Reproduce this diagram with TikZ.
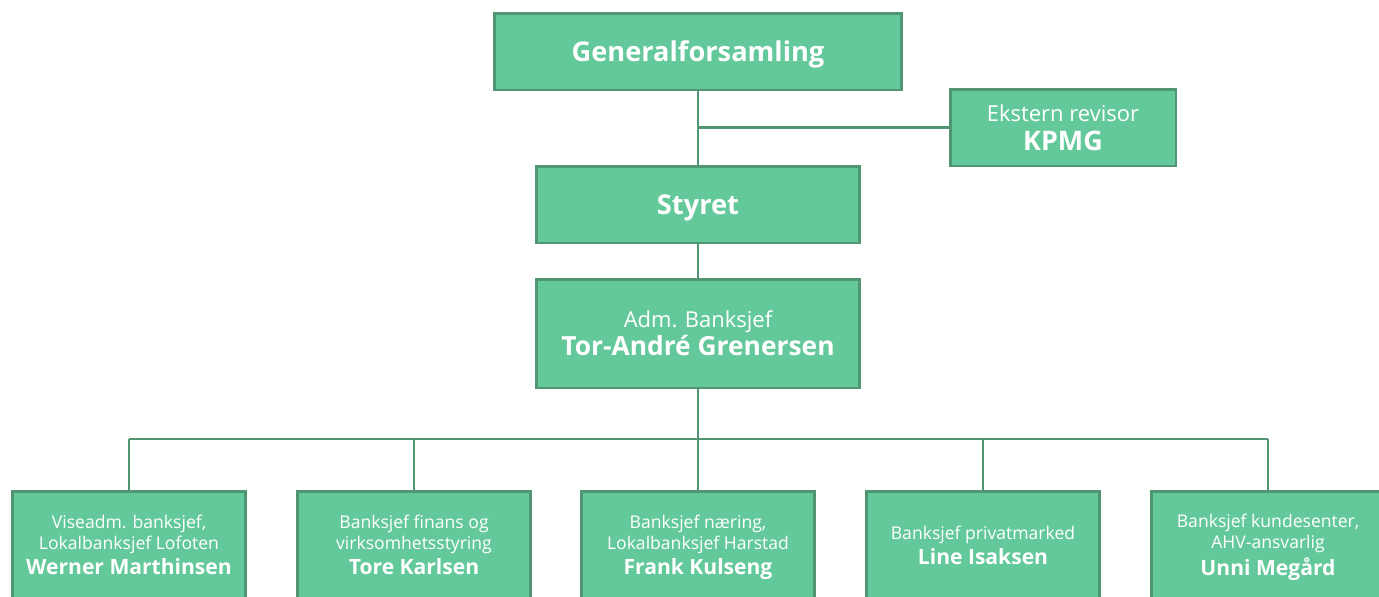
\documentclass[tikz,border=0pt]{standalone}
\usepackage{fontspec}
\setmainfont{Open Sans}
\definecolor{boxfill}{RGB}{100,201,154}
\definecolor{boxline}{RGB}{80,150,115}
\tikzset{
    box/.style={draw=boxline, fill=boxfill, line width=1.7pt, text=white, align=center, inner sep=0pt},
    topbox/.style={box, minimum height=1.54cm},
    unitbox/.style={box, minimum width=4.68cm, minimum height=2.16cm, font=\fontsize{10}{12}\selectfont},
    conn/.style={draw=boxline, line width=1.2pt},
}
\begin{document}
\begin{tikzpicture}[x=0.02cm, y=-0.02cm]
    \useasboundingbox (0,0) rectangle (1379,596);
    \clip (0,0) rectangle (1379,596);
    \node (gf) [topbox, minimum width=8.16cm, text depth=0pt, font=\fontsize{15.5}{18}\selectfont\bfseries] at (698,51.5) {Generalforsamling};
    \node (revisor) [topbox, minimum width=4.52cm, font=\fontsize{12.5}{16}\selectfont] at (1063,127.5)
            {Ekstern revisor\\[0.5pt]{\fontsize{15.3}{16}\selectfont\bfseries KPMG}};
    \node (styret) [topbox, minimum width=6.48cm, text depth=0pt, font=\fontsize{15.5}{18}\selectfont\bfseries] at (698,204.5) {Styret};
    \node (adm) [box, minimum width=6.48cm, minimum height=2.18cm, font=\fontsize{12.5}{15}\selectfont] at (698,333.5)
            {Adm. Banksjef\\[1pt]{\fontsize{15}{15}\selectfont\bfseries Tor-André Grenersen}};
    \foreach \i/\x/\role/\name in {
            1/129/{Viseadm. banksjef,\\Lokalbanksjef Lofoten}/Werner Marthinsen,
            2/414/{Banksjef finans og\\virksomhetsstyring}/Tore Karlsen,
            3/698/{Banksjef næring,\\Lokalbanksjef Harstad}/Frank Kulseng,
            4/983/{Banksjef privatmarked}/Line Isaksen,
            5/1268/{Banksjef kundesenter,\\AHV-ansvarlig}/Unni Megård} {
    \node (b\i) [unitbox, text depth=0pt] at (\x,545) {\role\\[2pt]{\fontsize{12}{12}\selectfont\bfseries \name}};
    }
    \coordinate (bus) at (698,439);
    \draw [conn] (gf) -- (styret);
    \draw [conn] (revisor.west) -- (revisor.west -| gf.south);
    \draw [conn] (styret) -- (adm);
    \draw [conn] (adm) -- (bus);
    \draw [conn] (b1.north |- bus) -- (b5.north |- bus);
    \foreach \i in {1,...,5} {
    \draw [conn] (b\i.north) -- (b\i.north |- bus);
    }
\end{tikzpicture}
\end{document}
